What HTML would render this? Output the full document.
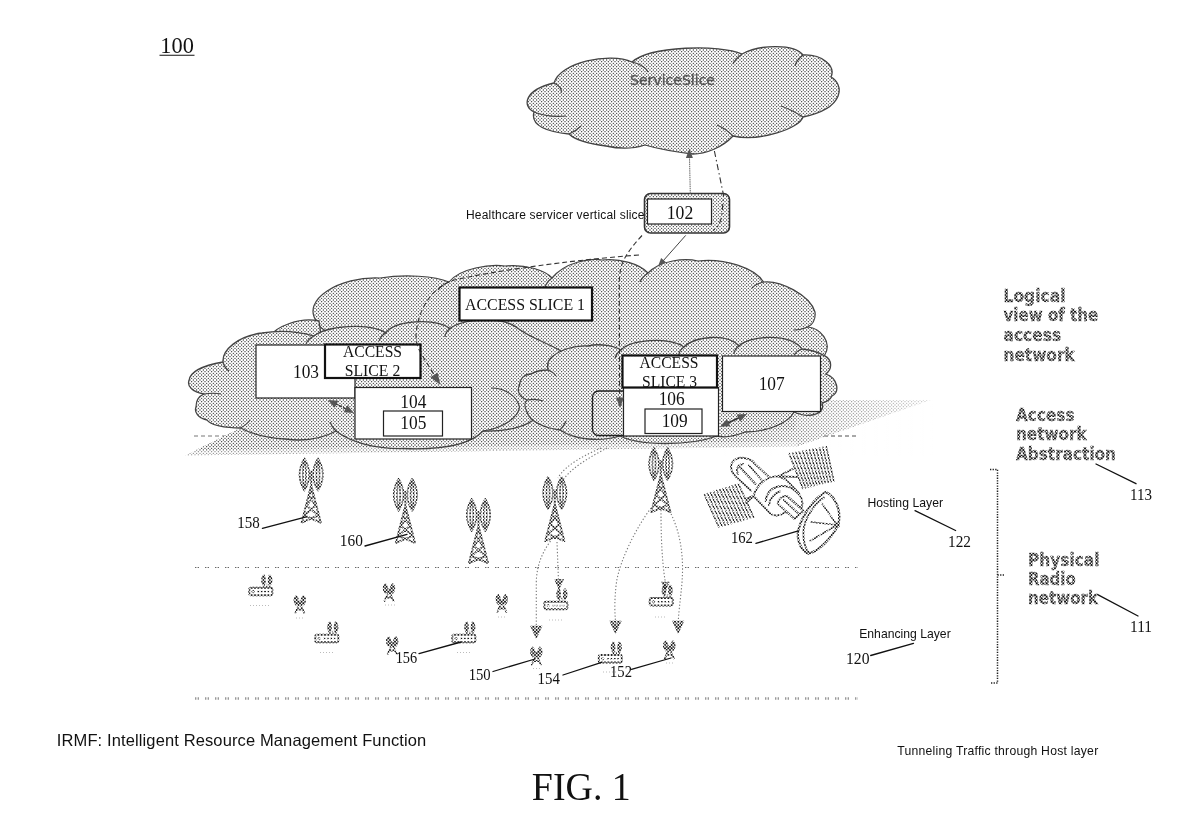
<!DOCTYPE html>
<html lang="en">
<head>
<meta charset="utf-8">
<title>FIG. 1</title>
<style>
html,body{margin:0;padding:0;background:#fff;}
body{width:1192px;height:832px;overflow:hidden;position:relative;}
svg{display:block;position:absolute;left:0;top:0;will-change:transform;}
.serif{font-family:"Liberation Serif",serif;fill:#111;}
.sans{font-family:"Liberation Sans",sans-serif;fill:#111;}
.gb{font-family:"DejaVu Sans","Liberation Sans",sans-serif;font-weight:bold;fill:#6e6e6e;}
.cl{fill:url(#ht);stroke:#444;stroke-width:1.3;stroke-linejoin:round;}
.bx{fill:#fff;stroke:#222;stroke-width:1.2;}
.bxb{fill:#fff;stroke:#111;stroke-width:2.2;}
.ld{stroke:#111;stroke-width:1.3;fill:none;stroke-linecap:round;}
.dsh{stroke:#333;stroke-width:1.1;fill:none;stroke-dasharray:5 3;}
.dot{stroke:#777;stroke-width:1.1;fill:none;stroke-dasharray:1.3 2;}
.tw{stroke:#1a1a1a;fill:none;stroke-width:1.3;stroke-linecap:round;}
</style>
</head>
<body>
<svg width="1192" height="832" viewBox="0 0 1192 832">
<defs>
<pattern id="ht" patternUnits="userSpaceOnUse" width="10" height="10">
<rect width="10" height="10" fill="#fff"/>
<g fill="#2a2a2a">
<circle cx="0" cy="0" r=".63"/><circle cx="3.333" cy="0" r=".63"/><circle cx="6.667" cy="0" r=".63"/><circle cx="10" cy="0" r=".63"/>
<circle cx="0" cy="3.333" r=".63"/><circle cx="3.333" cy="3.333" r=".63"/><circle cx="6.667" cy="3.333" r=".63"/><circle cx="10" cy="3.333" r=".63"/>
<circle cx="0" cy="6.667" r=".63"/><circle cx="3.333" cy="6.667" r=".63"/><circle cx="6.667" cy="6.667" r=".63"/><circle cx="10" cy="6.667" r=".63"/>
<circle cx="0" cy="10" r=".63"/><circle cx="3.333" cy="10" r=".63"/><circle cx="6.667" cy="10" r=".63"/><circle cx="10" cy="10" r=".63"/>
<circle cx="1.667" cy="1.667" r=".63"/><circle cx="5" cy="1.667" r=".63"/><circle cx="8.333" cy="1.667" r=".63"/>
<circle cx="1.667" cy="5" r=".63"/><circle cx="5" cy="5" r=".63"/><circle cx="8.333" cy="5" r=".63"/>
<circle cx="1.667" cy="8.333" r=".63"/><circle cx="5" cy="8.333" r=".63"/><circle cx="8.333" cy="8.333" r=".63"/>
</g>
</pattern>
<linearGradient id="fadeR" x1="0" y1="0" x2="1" y2="0">
<stop offset="0" stop-color="#fff" stop-opacity="0"/>
<stop offset="0.72" stop-color="#fff" stop-opacity="0"/>
<stop offset="1" stop-color="#fff" stop-opacity="0.75"/>
</linearGradient>

<pattern id="hmp" patternUnits="userSpaceOnUse" width="10" height="10"><rect width="10" height="10" fill="#000"/><g fill="#fff"><circle cx="0.000" cy="0.000" r="1"/><circle cx="3.333" cy="0.000" r="1"/><circle cx="6.667" cy="0.000" r="1"/><circle cx="10.000" cy="0.000" r="1"/><circle cx="0.000" cy="3.333" r="1"/><circle cx="3.333" cy="3.333" r="1"/><circle cx="6.667" cy="3.333" r="1"/><circle cx="10.000" cy="3.333" r="1"/><circle cx="0.000" cy="6.667" r="1"/><circle cx="3.333" cy="6.667" r="1"/><circle cx="6.667" cy="6.667" r="1"/><circle cx="10.000" cy="6.667" r="1"/><circle cx="0.000" cy="10.000" r="1"/><circle cx="3.333" cy="10.000" r="1"/><circle cx="6.667" cy="10.000" r="1"/><circle cx="10.000" cy="10.000" r="1"/><circle cx="1.667" cy="1.667" r="1"/><circle cx="5.000" cy="1.667" r="1"/><circle cx="8.333" cy="1.667" r="1"/><circle cx="1.667" cy="5.000" r="1"/><circle cx="5.000" cy="5.000" r="1"/><circle cx="8.333" cy="5.000" r="1"/><circle cx="1.667" cy="8.333" r="1"/><circle cx="5.000" cy="8.333" r="1"/><circle cx="8.333" cy="8.333" r="1"/></g></pattern>
<mask id="hm" maskUnits="userSpaceOnUse" x="0" y="0" width="1192" height="832"><rect width="1192" height="832" fill="url(#hmp)"/></mask>
<pattern id="hmp2" patternUnits="userSpaceOnUse" width="10" height="10"><rect width="10" height="10" fill="#000"/><g fill="#fff"><circle cx="0.000" cy="0.000" r="1.1"/><circle cx="3.333" cy="0.000" r="1.1"/><circle cx="6.667" cy="0.000" r="1.1"/><circle cx="10.000" cy="0.000" r="1.1"/><circle cx="0.000" cy="3.333" r="1.1"/><circle cx="3.333" cy="3.333" r="1.1"/><circle cx="6.667" cy="3.333" r="1.1"/><circle cx="10.000" cy="3.333" r="1.1"/><circle cx="0.000" cy="6.667" r="1.1"/><circle cx="3.333" cy="6.667" r="1.1"/><circle cx="6.667" cy="6.667" r="1.1"/><circle cx="10.000" cy="6.667" r="1.1"/><circle cx="0.000" cy="10.000" r="1.1"/><circle cx="3.333" cy="10.000" r="1.1"/><circle cx="6.667" cy="10.000" r="1.1"/><circle cx="10.000" cy="10.000" r="1.1"/><circle cx="1.667" cy="1.667" r="1.1"/><circle cx="5.000" cy="1.667" r="1.1"/><circle cx="8.333" cy="1.667" r="1.1"/><circle cx="1.667" cy="5.000" r="1.1"/><circle cx="5.000" cy="5.000" r="1.1"/><circle cx="8.333" cy="5.000" r="1.1"/><circle cx="1.667" cy="8.333" r="1.1"/><circle cx="5.000" cy="8.333" r="1.1"/><circle cx="8.333" cy="8.333" r="1.1"/></g></pattern>
<mask id="hm2" maskUnits="userSpaceOnUse" x="0" y="0" width="1192" height="832"><rect width="1192" height="832" fill="url(#hmp2)"/></mask>
<g id="btw" class="tw">
<path d="M-6.800,0 Q-16.500,16 -6.800,32 M-6.800,1 Q-10,16 -6.800,31 M-6.800,1 Q-3.500,16 -6.800,31 M-6.800,0 Q3,16 -6.800,32" stroke-width="1.700"/>
<path d="M6.800,0 Q16.500,16 6.800,32 M6.800,1 Q10,16 6.800,31 M6.800,1 Q3.500,16 6.800,31 M6.800,0 Q-3,16 6.800,32" stroke-width="1.700"/>
<path d="M0,13 L0,30 M0,27 L-9.500,64 M0,27 L9.500,64 M-2.600,37 L4.400,47 M2.600,37 L-4.400,47 M-4.600,47 L7,57 M4.600,47 L-7,57 M-7,57 L9.500,64 M7,57 L-9.500,64 M-0.800,30 L2.200,37 M0.800,30 L-2.200,37" stroke-width="2"/>
</g>
<g id="stw" stroke="#111" fill="none" stroke-width="1.5" stroke-linecap="round">
<path d="M-3.6,0 Q-7.5,4.5 -3.6,9 Q0.3,4.5 -3.6,0 M-3.6,0 L-3.6,9 M3.6,0 Q7.5,4.5 3.6,9 Q-0.3,4.5 3.6,0 M3.6,0 L3.6,9"/>
<path d="M-5,2 L2,8 M5,2 L-2,8 M0,7 L-4.5,17 M0,7 L4.5,17 M-3,13.5 L3,13.5" stroke-width="1.8"/>
</g>
<g id="rtr" stroke="#111" fill="none" stroke-width="1.5">
<rect x="0" y="0" width="23" height="7.5" rx="1.5" fill="#fff" stroke-width="1.9"/>
<circle cx="3.8" cy="3.8" r="1.2" stroke-width=".9"/>
<path d="M8,3.8 L20,3.8" stroke-dasharray="2 1.4"/>
<path d="M17.5,0 L17.5,-4" stroke-width="1"/>
<path d="M14.6,-13 Q10.5,-7.5 14.6,-2 Q17,-7.5 14.6,-13 M14.6,-13 L14.6,-2 M20.4,-13 Q24.5,-7.5 20.4,-2 Q18,-7.5 20.4,-13 M20.4,-13 L20.4,-2" stroke="#111" stroke-width="1.6"/>
</g>
<path id="ahd" d="M-5,-11 L5,-11 L0,0 Z M-3,-11 L0,-2 M3,-11 L0,-2 M0,-11 L0,0 M-4,-8 L4,-8 M-2.5,-5 L2.5,-5" stroke="#111" stroke-width="1.5" fill="none"/>
</defs>

<!-- ===== top cloud : Service Slice ===== -->
<g id="topcloud">
<path class="cl" d="M554,83 C560,62 610,52 632,62 C650,46 720,44 742,54 C760,44 795,44 803,55 C822,54 836,66 831,77 C844,84 846,108 803,117 C800,128 760,142 733,136 C722,148 705,154 693,154 C676,152 655,148 645,145 C630,150 615,148 606,146 C590,144 575,140 569,134 C548,132 530,126 534,112 C522,106 524,90 554,83 Z"/>
<path d="M554,83 C560,86 562,90 561,93 M632,62 C640,64 646,68 648,72 M742,54 C737,58 734,61 733,64 M803,55 C798,59 796,62 795,66 M803,117 C795,112 787,108 781,106 M733,136 C728,131 722,127 717,125 M569,134 C574,132 578,129 581,126 M534,112 C544,116 556,117 566,116" fill="none" stroke="#444" stroke-width="1.2"/>
</g>
<text x="630" y="85" class="gb" style="font-weight:normal;fill:#555;stroke:#555;stroke-width:.35" font-size="14.5" textLength="85" lengthAdjust="spacingAndGlyphs">ServiceSlice</text>


<!-- ===== ground plane ===== -->
<line x1="194" y1="436" x2="858" y2="436" class="dsh" style="stroke:#777;stroke-width:1;stroke-dasharray:4 3"/>
<polygon points="296,400 931,400 797,446.500 185,455.500" fill="url(#ht)"/>
<polygon points="296,399 933,399 933,456 186,456" fill="url(#fadeR)"/>
<polygon points="185,450.500 797,441.500 797,447 185,456" fill="#fff" opacity=".4"/>
<path d="M824,436 H858" class="dsh" style="stroke:#777;stroke-width:1;stroke-dasharray:4 3"/>

<!-- ===== back cloud (access slice 1) ===== -->
<path d="M317,322 C300,300 340,276 380,278 C405,274 435,276 449,282 C460,268 490,264 505,266 C525,264 545,270 552,278 C565,262 590,258 602,260 C620,258 640,264 648,273 C660,260 685,258 698,261 C725,258 755,268 763.500,282 C780,280 810,295 815,312 C816,320 812,325 808,327 C820,328 833,342 824.400,355.700 L800,380 L795,430 L330,430 Z" fill="url(#ht)" stroke="none"/>
<path d="M317,322 C300,300 340,276 380,278 C405,274 435,276 449,282 C460,268 490,264 505,266 C525,264 545,270 552,278 C565,262 590,258 602,260 C620,258 640,264 648,273 C660,260 685,258 698,261 C725,258 755,268 763.500,282 C780,280 810,295 815,312 C816,320 812,325 808,327 C820,328 833,342 824.400,355.700" fill="none" stroke="#444" stroke-width="1.2"/>
<path d="M317,322 C319,326 322,329 326,331 M449,282 C444,284 440,287 438,290 M552,278 C548,281 546,284 545,287 M648,273 C644,276 641,279 640,282 M763.500,282 C759,283 755,285 752,288 M808,327 C803,329 798,330 794,330" fill="none" stroke="#444" stroke-width="1.2"/>
<!-- small lobe behind front-left cloud -->
<path class="cl" d="M268,338 C276,326 300,317 319,321 L322,342 Z"/>
<!-- ===== front-left cloud ===== -->
<path class="cl" d="M189,380.500 C190,372 200,366 223,362 C222,350 238,336 262,333 C280,330 300,332 314,336 C325,326 370,322 385.700,333 C395,320 435,318 450,328.500 C462,319 500,316 516,327 C530,338 550,344 561,351 C572,365 565,390 548,398 C545,420 520,432 483,431 C470,445 440,450 403,448.500 C375,449 350,442 336,431 C320,440 300,441 285,439 C265,438 250,433 240.600,428 C225,428 210,425 207,420 C198,418 194,412 196,407 C196,400 199,396 204,394 C192,392 187,386 189,380.500 Z"/>
<path d="M204,394 C210,393 216,393 221,394 M223,362 C224,366 226,369 229,371 M314,336 C310,338 307,341 306,344 M385.700,333 C382,335 380,338 379,341 M450,328.500 C447,331 445,334 445,337 M491,388 C505,388 517,396 519.500,407 C519,416 505,428 483,431 M240.600,428 C244,426 248,423 250,420 M336,431 C333,428 331,425 330,422" fill="none" stroke="#444" stroke-width="1.2"/>
<!-- ===== front-right cloud ===== -->
<path class="cl" d="M519.600,385 C520,378 525,374 531,374 C536,371 544,370 548,370 C547,364 548,361 550,359 C558,350 575,345 588,346 C600,343 615,346 621,350 C630,340 668,336 684,347 C695,336 727,333 739,346 C750,335 790,333 802,349 C810,350 820,353 824.400,355.700 C833,360 832,370 825.700,374 C838,378 840,392 832,396 C830,400 826,402 822,403 C826,412 812,420 794,412 C788,424 765,432 745,432 C735,436 725,438 717,436 C690,446 640,446 620,436 C600,442 575,440 560,430 C545,428 530,422 527,412 C524,406 524,403 527,400 C518,396 517,390 519.600,385 Z"/>
<path d="M527,400 C532,399 538,399 543,401 M548,370 C551,371 554,373 556,376 M621,350 C618,352 616,355 615,358 M684,347 C681,349 679,352 679,355 M739,346 C736,348 734,351 734,354 M802,349 C799,350 796,352 794,355 M560,430 C563,427 565,424 566,421 M794,412 C796,408 797,404 797,400" fill="none" stroke="#444" stroke-width="1.2"/>

<!-- boxes -->
<rect x="256" y="345" width="99" height="53" class="bx"/>
<rect x="355" y="387.5" width="116.5" height="51.5" class="bx"/>
<rect x="383.5" y="411" width="59" height="25" class="bx"/>
<rect x="325" y="344.5" width="95.5" height="33.5" class="bxb"/>
<rect x="459.5" y="287.5" width="132.5" height="33" class="bxb"/>

<rect x="592.5" y="391" width="40" height="44.5" rx="6" ry="6" fill="url(#ht)" stroke="#222" stroke-width="1.3"/>
<rect x="623.5" y="387.5" width="95" height="48.5" class="bx"/>
<rect x="645" y="409" width="57" height="24.5" class="bx"/>
<rect x="622.5" y="355.5" width="94.5" height="32" class="bxb"/>
<rect x="722.5" y="356" width="98" height="55.5" class="bx"/>

<!-- box 102 -->
<rect x="644.5" y="193.5" width="85" height="39.5" rx="6" ry="6" fill="url(#ht)" stroke="#333" stroke-width="1.6"/>
<rect x="647.5" y="199" width="64" height="25" class="bx"/>

<!-- box texts -->
<g class="serif" font-size="19" text-anchor="middle">
<text x="680" y="218.8" textLength="26.5" lengthAdjust="spacingAndGlyphs">102</text>
<text x="306" y="377.5" textLength="26" lengthAdjust="spacingAndGlyphs">103</text>
<text x="413.3" y="407.7" textLength="26" lengthAdjust="spacingAndGlyphs">104</text>
<text x="413.3" y="428.8" textLength="26" lengthAdjust="spacingAndGlyphs">105</text>
<text x="671.7" y="404.6" textLength="26" lengthAdjust="spacingAndGlyphs">106</text>
<text x="674.7" y="427.3" textLength="26" lengthAdjust="spacingAndGlyphs">109</text>
<text x="771.7" y="389.5" textLength="26" lengthAdjust="spacingAndGlyphs">107</text>
</g>
<g class="serif" font-size="16" text-anchor="middle">
<text x="525" y="309.5" textLength="120" lengthAdjust="spacingAndGlyphs">ACCESS SLICE 1</text>
<text x="372.5" y="357.2" textLength="59" lengthAdjust="spacingAndGlyphs">ACCESS</text>
<text x="372.5" y="376.2" textLength="55.5" lengthAdjust="spacingAndGlyphs">SLICE 2</text>
<text x="669" y="367.5" textLength="59" lengthAdjust="spacingAndGlyphs">ACCESS</text>
<text x="669.5" y="386.5" textLength="55" lengthAdjust="spacingAndGlyphs">SLICE 3</text>
</g>

<!-- free texts -->
<text x="160.3" y="53.3" class="serif" font-size="23.5" textLength="33.5" lengthAdjust="spacingAndGlyphs">100</text>
<line x1="159.5" y1="55.2" x2="194.5" y2="55.2" stroke="#111" stroke-width="1.1"/>
<text x="531.8" y="800.4" class="serif" font-size="39" textLength="99" lengthAdjust="spacingAndGlyphs">FIG. 1</text>
<text x="56.8" y="745.9" class="sans" font-size="16.5" textLength="369.5" lengthAdjust="spacing">IRMF: Intelligent Resource Management Function</text>
<text x="897.2" y="754.8" class="sans" font-size="12.2" textLength="201" lengthAdjust="spacing">Tunneling Traffic through Host layer</text>
<text x="466" y="219.3" class="sans" font-size="12" textLength="178.5" lengthAdjust="spacing">Healthcare servicer vertical slice</text>
<text x="867.4" y="506.8" class="sans" font-size="12.2" textLength="75.6" lengthAdjust="spacing">Hosting Layer</text>
<text x="859.2" y="638.4" class="sans" font-size="12.2" textLength="91.5" lengthAdjust="spacing">Enhancing Layer</text>

<g class="gb" font-size="17" mask="url(#hm2)" style="fill:#111;stroke:#111;stroke-width:.35">
<text x="1003.5" y="301.8" textLength="62" lengthAdjust="spacingAndGlyphs">Logical</text>
<text x="1003.5" y="320.6" textLength="94.8" lengthAdjust="spacingAndGlyphs">view of the</text>
<text x="1003.5" y="340.6" textLength="57.7" lengthAdjust="spacingAndGlyphs">access</text>
<text x="1003.5" y="360.8" textLength="71.2" lengthAdjust="spacingAndGlyphs">network</text>
<text x="1016" y="421" textLength="58.5" lengthAdjust="spacingAndGlyphs">Access</text>
<text x="1016" y="440.3" textLength="70.7" lengthAdjust="spacingAndGlyphs">network</text>
<text x="1016" y="460" textLength="100" lengthAdjust="spacingAndGlyphs">Abstraction</text>
<text x="1028" y="566" textLength="71.5" lengthAdjust="spacingAndGlyphs">Physical</text>
<text x="1028" y="584.7" textLength="47.7" lengthAdjust="spacingAndGlyphs">Radio</text>
<text x="1028" y="603.5" textLength="70" lengthAdjust="spacingAndGlyphs">network</text>
</g>

<!-- reference numerals + leaders -->
<g class="serif" font-size="16.5">
<text x="1130" y="500" textLength="22" lengthAdjust="spacingAndGlyphs">113</text>
<text x="1130" y="632.4" textLength="22" lengthAdjust="spacingAndGlyphs">111</text>
<text x="948" y="547" textLength="23" lengthAdjust="spacingAndGlyphs">122</text>
<text x="846" y="663.7" textLength="23.5" lengthAdjust="spacingAndGlyphs">120</text>
<text x="237.2" y="528.3" textLength="22.5" lengthAdjust="spacingAndGlyphs">158</text>
<text x="339.8" y="546" textLength="23" lengthAdjust="spacingAndGlyphs">160</text>
<text x="730.9" y="542.6" textLength="22" lengthAdjust="spacingAndGlyphs">162</text>
<text x="395.7" y="662.6" textLength="21.5" lengthAdjust="spacingAndGlyphs">156</text>
<text x="468.7" y="679.8" textLength="22" lengthAdjust="spacingAndGlyphs">150</text>
<text x="537.6" y="683.6" textLength="22.3" lengthAdjust="spacingAndGlyphs">154</text>
<text x="610" y="677.4" textLength="22" lengthAdjust="spacingAndGlyphs">152</text>
</g>
<g class="ld">
<line x1="1096" y1="464" x2="1136" y2="483.7"/>
<line x1="1097.7" y1="594.6" x2="1138" y2="616"/>
<line x1="915" y1="510.7" x2="955.6" y2="530.5"/>
<line x1="870.7" y1="655.5" x2="913.5" y2="643.3"/>
<line x1="262.4" y1="528.3" x2="306.2" y2="516.8"/>
<line x1="365" y1="546" x2="407" y2="534.3"/>
<line x1="755.9" y1="543.4" x2="798.3" y2="530.8"/>
<line x1="419" y1="653.7" x2="461" y2="642"/>
<line x1="493" y1="671.5" x2="535" y2="659"/>
<line x1="563" y1="675" x2="601.6" y2="662.3"/>
<line x1="631.5" y1="669.3" x2="671" y2="658"/>
</g>

<!-- layer separator lines -->
<line x1="195" y1="567.5" x2="858" y2="567.5" stroke="#666" stroke-width="1.2" stroke-dasharray="1.4 1.2 1.4 6"/>
<line x1="195" y1="698.5" x2="858" y2="698.5" stroke="#999" stroke-width="2.4" stroke-dasharray="1.4 1.2 1.4 6"/>

<!-- bracket -->
<path d="M990,469.5 L997.5,469.5 L997.5,683 L990,683 M997.5,575 L1004.5,575" class="dot" style="stroke:#222;stroke-width:1.5;stroke-dasharray:1.3 1.3"/>


<g mask="url(#hm)">
<!-- big towers -->
<use href="#btw" x="311.2" y="458.5"/>
<use href="#btw" x="405.4" y="478.8"/>
<use href="#btw" x="478.5" y="499"/>
<use href="#btw" x="554.8" y="477"/>
<use href="#btw" x="660.8" y="448"/>

<!-- small towers -->
<use href="#stw" x="299.8" y="596"/>
<use href="#stw" x="389" y="584"/>
<use href="#stw" x="392.2" y="637"/>
<use href="#stw" x="501.8" y="595"/>
<use href="#stw" x="536.3" y="647.5"/>
<use href="#stw" x="669.3" y="641.3"/>

<!-- routers -->
<use href="#rtr" x="249.3" y="587.8"/>
<use href="#rtr" x="315.3" y="634.8"/>
<use href="#rtr" x="452.3" y="634.8"/>
<use href="#rtr" x="544.4" y="601.7"/>
<use href="#rtr" x="598.8" y="655"/>
<use href="#rtr" x="649.7" y="598"/>
</g>
<g stroke="#bbb" stroke-width="1" stroke-dasharray="1 2" fill="none">
<path d="M250,605.5 h20 M296,618 h9 M320,652.500 h14 M385,605 h10 M457,652.500 h14 M498,617 h9 M549,620 h14 M603,672 h14 M655,617 h12 M533,668.500 h8 M666,663 h8"/>
</g>

<!-- tunnels (dotted) -->
<g class="dot">
<path d="M601,448 C585,455 565,465 558,478"/>
<path d="M607,448 C592,456 572,467 563,480"/>
<path d="M550.500,541 C542,553 537,565 536.300,581 L536.300,626"/>
<path d="M557,542 L558.500,581"/>
<path d="M651,508 C636,528 620,560 616.500,582 C614.500,598 614.500,610 615.500,621"/>
<path d="M661,510 C661,530 661.500,560 665.500,583"/>
<path d="M668,508 C678,526 682,545 682.500,565 C683,585 679,605 678.300,621"/>
</g>
<g mask="url(#hm)">
<use href="#ahd" x="536.3" y="637.5"/>
<use href="#ahd" x="559" y="588.5" transform="translate(559 588.500) scale(.8) translate(-559 -588.500)"/>
<use href="#ahd" x="615.5" y="632.5"/>
<use href="#ahd" x="678.2" y="632.5"/>
<use href="#ahd" x="665.5" y="590" transform="translate(665.500 590) scale(.7) translate(-665.500 -590)"/>
</g>

<g id="arrows">
<path d="M689.500,157 L690.300,194" stroke="#666" stroke-width="1" fill="none" stroke-dasharray="1.5 .7"/>
<path d="M714.400,151 L723.500,195 L722,214 Q720.500,226 713,230.500" stroke="#333" stroke-width="1.1" fill="none" stroke-dasharray="6 3 1.5 3"/>
<path d="M642,235.500 Q632,246 626,256 Q619.500,266 619.300,282 L619.600,398" class="dsh"/>
<path d="M639,255 C600,258 565,262 540,265.500 C500,271 470,276 451,281 C430,290 418,310 416,335 C416,345 419,350 422,355 L435.500,377" class="dsh"/>
<path d="M685.700,235.400 L663,261" stroke="#444" stroke-width="1" fill="none"/>
<path d="M335,403.500 L347,409.500" stroke="#333" stroke-width="1.6" stroke-dasharray="3 1.5"/>
<path d="M727,423.500 L740,417.300" stroke="#333" stroke-width="1.8"/>
<g fill="#555" stroke="none">
<polygon points="689.4,148.5 692.9,158.0 685.9,158.0"/>
<polygon points="620.0,408.0 616.1,397.5 623.9,397.5"/>
<polygon points="440.5,385.0 430.5,377.2 437.5,372.6"/>
<polygon points="658.0,266.5 661.1,258.0 666.0,262.2"/>
<polygon points="328.0,400.0 338.3,400.7 334.7,407.8"/>
<polygon points="354.0,413.0 343.7,412.3 347.3,405.2"/>
<polygon points="720.0,426.8 726.9,419.1 730.3,426.3"/>
<polygon points="747.0,414.0 740.1,421.7 736.7,414.5"/>
</g>
</g>

<g mask="url(#hm)">
<g id="sat" stroke="#111" stroke-width="1.9" fill="none" stroke-linecap="round" stroke-linejoin="round">
<path d="M704.4,494.5 L718.8,527.0 M707.5,493.5 L722.0,526.1 M710.6,492.6 L725.1,525.2 M713.7,491.6 L728.3,524.3 M716.8,490.6 L731.5,523.4 M719.9,489.7 L734.6,522.5 M722.9,488.7 L737.8,521.7 M726.0,487.8 L740.9,520.8 M729.1,486.8 L744.1,519.9 M732.2,485.8 L747.3,519.0 M735.3,484.9 L750.4,518.1 M738.4,483.9 L753.6,517.2 " stroke-width="1.6"/>
<path d="M789.2,453.6 L802.8,488.4 M792.6,453.0 L805.6,487.7 M795.9,452.4 L808.4,487.0 M799.3,451.7 L811.3,486.4 M802.7,451.1 L814.1,485.7 M806.1,450.5 L816.9,485.0 M809.4,449.9 L819.7,484.3 M812.8,449.3 L822.5,483.6 M816.2,448.7 L825.3,482.9 M819.6,448.0 L828.2,482.3 M822.9,447.4 L831.0,481.6 M826.3,446.8 L833.8,480.9 " stroke-width="1.6"/>
<path d="M746,499 L753.500,496 M746,503 L753.500,496 M793,468.800 L778,476.300 M797,477 L778,476.300"/>
<path d="M731,466 C732,459 740,456.500 746,458.500 C750,459 753,461 754.500,463.500 L768.500,476.500 M731,466 C731,470 733,474 736,477 L751,490.500 M738,474 C735.500,469 738,464.500 743,464 M740,467.500 L755.500,484 M749,465.500 L762,480.500" fill="#fff"/>
<path d="M753.600,496 C756,488 762,481 769,478 C776,474.500 784,477 789,483 L799,493.500 C802,498 803,503 802,507 L784,513 C779,516.500 772,516.500 768.500,511.500 Z" fill="#fff"/>
<path d="M765.700,501 C766,494 771,488 778,486.500 C786,484.500 794,488 799,494.500 M769,505 C769.500,499 774,493 780,491.500"/>
<path d="M777.800,503.600 C778,499 782,495.500 787,496 L803.500,511 L794.500,519 Z M784,500 L799,514 M790,498.500 L802,509.500" fill="#fff"/>
<path d="M826,492 C836,497 842,512 838,525 C832,538 818,552 808,553.500 C799,549 796,536 799,528 C803,514 815,497 826,492 Z" fill="#fff" stroke-width="2.3"/>
<path d="M824,497.500 C813,505 804,520 803.500,531 C803,540 805,548 808.500,552" stroke-dasharray="1.6 .7"/>
<path d="M837,525 L811,522 M837,525 L822,503.500 M837,525 L810,541" stroke-width="1.6"/>
<circle cx="837.300" cy="525" r="2.600" fill="#000" stroke="none"/>
</g>
</g>



</svg>
</body>
</html>
